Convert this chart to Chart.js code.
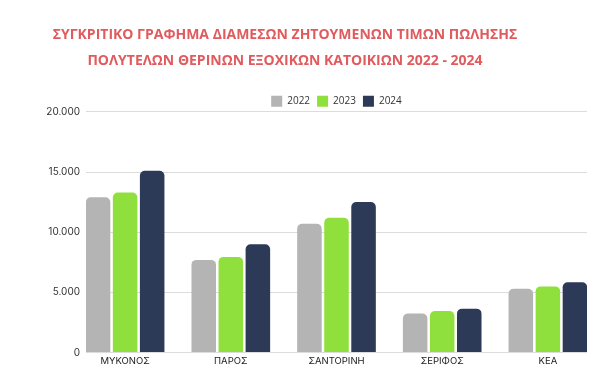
<!DOCTYPE html>
<html>
<head>
<meta charset="utf-8">
<script src="https://cdn.jsdelivr.net/npm/chart.js@4/dist/chart.umd.min.js"></script>
<style>
  html, body { margin: 0; padding: 0; background: #ffffff; overflow: hidden; }
  #wrap { position: absolute; left: -17px; top: 0; width: 617px; height: 370px; }
</style>
</head>
<body>
<div id="wrap"><canvas id="c" width="617" height="370"></canvas></div>
<script>
const categories = ['ΜΥΚΟΝΟΣ', 'ΠΑΡΟΣ', 'ΣΑΝΤΟΡΙΝΗ', 'ΣΕΡΙΦΟΣ', 'ΚΕΑ'];
const seriesNames = ['2022', '2023', '2024'];
const values2022 = [12900, 7700, 10700, 3250, 5300];
const values2023 = [13300, 7950, 11200, 3450, 5500];
const values2024 = [15100, 9000, 12500, 3650, 5850];
const yTicks = [0, 5000, 10000, 15000, 20000];
const titleLines = ['ΣΥΓΚΡΙΤΙΚΟ ΓΡΑΦΗΜΑ ΔΙΑΜΕΣΩΝ ΖΗΤΟΥΜΕΝΩΝ ΤΙΜΩΝ ΠΩΛΗΣΗΣ', 'ΠΟΛΥΤΕΛΩΝ ΘΕΡΙΝΩΝ ΕΞΟΧΙΚΩΝ ΚΑΤΟΙΚΙΩΝ 2022 - 2024'];

const colors = ['#b4b4b4', '#8fe03c', '#2c3a58'];
const allValues = [values2022, values2023, values2024];

function fmt(v) { return String(v).replace(/\B(?=(\d{3})+(?!\d))/g, '.'); }

const datasets = seriesNames.map((name, s) => ({
  label: name,
  data: allValues[s].map((v, i) => ({ x: i, y: v })),
  backgroundColor: colors[s],
  borderRadius: 5,
  borderSkipped: 'bottom',
  categoryPercentage: 0.768,
  barPercentage: 0.907
}));

new Chart(document.getElementById('c'), {
  type: 'bar',
  data: { datasets },
  options: {
    responsive: false,
    animation: false,
    layout: { padding: { left: 0, right: 13, top: 0, bottom: 0 } },
    plugins: {
      tooltip: { enabled: false },
      title: {
        display: true,
        text: titleLines,
        color: '#e05a5e',
        font: { family: 'Open Sans', size: 14, weight: 'bold', lineHeight: 1.85 },
        padding: { top: 22, bottom: 15 }
      },
      legend: {
        display: true,
        position: 'top',
        fullSize: false,
        maxHeight: 23,
        labels: {
          color: '#333333',
          font: { family: 'Open Sans', size: 10 },
          boxWidth: 11,
          boxHeight: 11,
          padding: 7
        }
      }
    },
    scales: {
      x: {
        type: 'linear',
        offset: false,
        min: -0.37,
        max: 4.37,
        grid: { display: false, drawTicks: false },
        border: { display: false },
        ticks: {
          stepSize: 1,
          includeBounds: false,
          autoSkip: false,
          maxRotation: 0,
          color: '#222222',
          font: { family: 'Inter', size: 9.5 },
          padding: 3,
          callback: (v) => Number.isInteger(v) ? categories[v] : ''
        }
      },
      y: {
        min: 0,
        max: 20000,
        afterFit: (scale) => { scale.width = 103; },
        afterBuildTicks: (scale) => { scale.ticks = yTicks.map(v => ({ value: v })); },
        grid: { color: '#dcdcdc', lineWidth: 1, drawTicks: false },
        border: { display: false },
        ticks: {
          color: '#333333',
          font: { family: 'Inter', size: 10 },
          padding: 6,
          callback: (v) => fmt(v)
        }
      }
    }
  }
});
</script>
</body>
</html>
